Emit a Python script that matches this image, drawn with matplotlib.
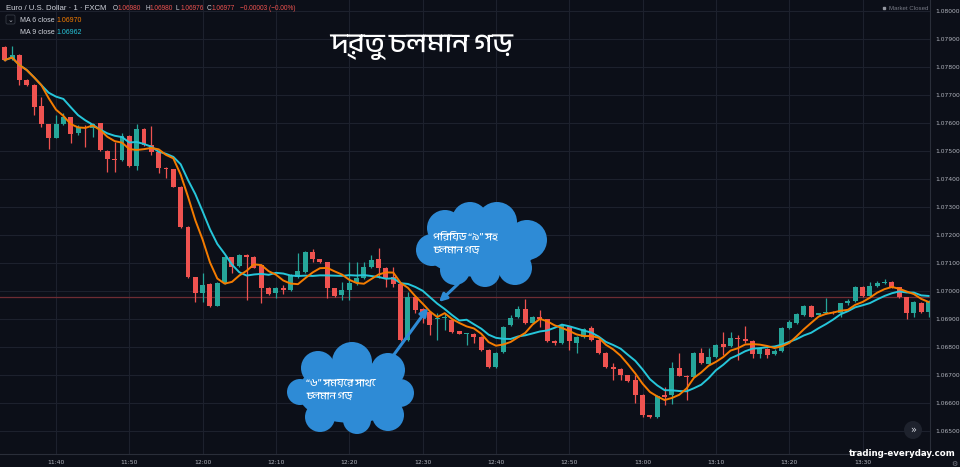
import pandas as pd
import matplotlib.pyplot as plt
from matplotlib import font_manager
from matplotlib.patches import Circle, Ellipse, FancyBboxPatch

# one-minute EUR/USD candles, 11:33 .. 13:39
opens = [1.07871, 1.07826, 1.07841, 1.07752, 1.07734, 1.07659, 1.07594, 1.07545, 1.07595, 1.07619,
         1.07561, 1.07585, 1.07580, 1.07597, 1.07499, 1.07471, 1.07466, 1.07552, 1.07445, 1.07576,
         1.07520, 1.07496, 1.07439, 1.07433, 1.07371, 1.07228, 1.07047, 1.06990, 1.07024, 1.06945,
         1.07026, 1.07119, 1.07089, 1.07127, 1.07121, 1.07091, 1.07010, 1.06990, 1.07010, 1.07002,
         1.07049, 1.07067, 1.07139, 1.07111, 1.07101, 1.07008, 1.06984, 1.07002, 1.07026, 1.07043,
         1.07083, 1.07111, 1.07079, 1.07049, 1.07022, 1.06823, 1.06976, 1.06933, 1.06924, 1.06897,
         1.06901, 1.06895, 1.06855, 1.06845, 1.06845, 1.06835, 1.06788, 1.06728, 1.06781, 1.06877,
         1.06904, 1.06933, 1.06883, 1.06904, 1.06897, 1.06820, 1.06811, 1.06871, 1.06811, 1.06833,
         1.06865, 1.06823, 1.06778, 1.06726, 1.06719, 1.06698, 1.06680, 1.06627, 1.06555, 1.06549,
         1.06627, 1.06627, 1.06722, 1.06696, 1.06692, 1.06776, 1.06738, 1.06762, 1.06808, 1.06802,
         1.06829, 1.06826, 1.06821, 1.06773, 1.06790, 1.06773, 1.06785, 1.06865, 1.06885, 1.06913,
         1.06945, 1.06911, 1.06918, 1.06924, 1.06918, 1.06954, 1.06964, 1.07014, 1.06980, 1.07016,
         1.07026, 1.07032, 1.07011, 1.06976, 1.06921, 1.06957, 1.06924]
highs = [1.07875, 1.07873, 1.07845, 1.07755, 1.07736, 1.07692, 1.07596, 1.07627, 1.07633, 1.07621,
         1.07590, 1.07591, 1.07600, 1.07600, 1.07502, 1.07531, 1.07561, 1.07555, 1.07594, 1.07580,
         1.07588, 1.07498, 1.07442, 1.07435, 1.07373, 1.07230, 1.07049, 1.07061, 1.07026, 1.07030,
         1.07125, 1.07121, 1.07130, 1.07129, 1.07124, 1.07094, 1.07013, 1.07012, 1.07020, 1.07058,
         1.07133, 1.07142, 1.07148, 1.07113, 1.07103, 1.07010, 1.07032, 1.07103, 1.07103, 1.07103,
         1.07127, 1.07151, 1.07085, 1.07085, 1.07025, 1.06996, 1.06980, 1.06936, 1.06926, 1.06918,
         1.06918, 1.06897, 1.06857, 1.06850, 1.06847, 1.06837, 1.06790, 1.06780, 1.06874, 1.06913,
         1.06945, 1.06969, 1.06910, 1.06930, 1.06900, 1.06822, 1.06880, 1.06874, 1.06836, 1.06865,
         1.06873, 1.06826, 1.06780, 1.06740, 1.06722, 1.06700, 1.06698, 1.06630, 1.06557, 1.06626,
         1.06657, 1.06746, 1.06778, 1.06698, 1.06781, 1.06793, 1.06793, 1.06808, 1.06853, 1.06853,
         1.06841, 1.06873, 1.06823, 1.06796, 1.06793, 1.06790, 1.06868, 1.06895, 1.06918, 1.06950,
         1.06948, 1.06920, 1.06972, 1.06926, 1.06957, 1.06968, 1.07016, 1.07016, 1.07029, 1.07035,
         1.07040, 1.07034, 1.07013, 1.06978, 1.06963, 1.06960, 1.06966]
lows = [1.07818, 1.07823, 1.07734, 1.07730, 1.07627, 1.07585, 1.07504, 1.07543, 1.07592, 1.07526,
        1.07555, 1.07514, 1.07547, 1.07498, 1.07424, 1.07424, 1.07462, 1.07440, 1.07431, 1.07515,
        1.07484, 1.07421, 1.07401, 1.07368, 1.07225, 1.07043, 1.06960, 1.06960, 1.06940, 1.06943,
        1.07024, 1.07061, 1.07085, 1.06966, 1.07079, 1.06954, 1.06984, 1.06972, 1.06986, 1.06999,
        1.07045, 1.07064, 1.07103, 1.07098, 1.06974, 1.06978, 1.06966, 1.06966, 1.07020, 1.07040,
        1.07080, 1.07043, 1.07014, 1.07014, 1.06820, 1.06818, 1.06918, 1.06883, 1.06841, 1.06823,
        1.06859, 1.06850, 1.06843, 1.06805, 1.06811, 1.06785, 1.06725, 1.06725, 1.06778, 1.06874,
        1.06901, 1.06880, 1.06880, 1.06871, 1.06817, 1.06805, 1.06808, 1.06788, 1.06776, 1.06830,
        1.06818, 1.06773, 1.06722, 1.06680, 1.06680, 1.06675, 1.06597, 1.06549, 1.06546, 1.06546,
        1.06591, 1.06595, 1.06693, 1.06609, 1.06690, 1.06737, 1.06735, 1.06760, 1.06770, 1.06800,
        1.06752, 1.06811, 1.06760, 1.06760, 1.06760, 1.06768, 1.06782, 1.06862, 1.06882, 1.06910,
        1.06905, 1.06908, 1.06915, 1.06915, 1.06905, 1.06950, 1.06960, 1.06977, 1.06977, 1.07013,
        1.07024, 1.07008, 1.06973, 1.06900, 1.06907, 1.06920, 1.06905]
closes = [1.07823, 1.07841, 1.07752, 1.07734, 1.07657, 1.07594, 1.07543, 1.07595, 1.07619, 1.07559,
          1.07585, 1.07583, 1.07595, 1.07502, 1.07470, 1.07466, 1.07552, 1.07445, 1.07576, 1.07520,
          1.07496, 1.07436, 1.07433, 1.07371, 1.07228, 1.07047, 1.06990, 1.07020, 1.06945, 1.07026,
          1.07119, 1.07085, 1.07127, 1.07121, 1.07082, 1.07010, 1.06989, 1.07010, 1.07002, 1.07055,
          1.07070, 1.07139, 1.07111, 1.07101, 1.07008, 1.06981, 1.07002, 1.07026, 1.07043, 1.07085,
          1.07109, 1.07079, 1.07046, 1.07022, 1.06823, 1.06978, 1.06930, 1.06921, 1.06877, 1.06902,
          1.06907, 1.06853, 1.06845, 1.06847, 1.06833, 1.06788, 1.06728, 1.06776, 1.06871, 1.06901,
          1.06933, 1.06883, 1.06907, 1.06897, 1.06820, 1.06814, 1.06877, 1.06818, 1.06833, 1.06861,
          1.06823, 1.06776, 1.06726, 1.06719, 1.06698, 1.06678, 1.06627, 1.06555, 1.06549, 1.06623,
          1.06621, 1.06722, 1.06696, 1.06690, 1.06776, 1.06740, 1.06764, 1.06805, 1.06799, 1.06829,
          1.06826, 1.06820, 1.06773, 1.06793, 1.06770, 1.06785, 1.06865, 1.06889, 1.06916, 1.06945,
          1.06907, 1.06918, 1.06924, 1.06918, 1.06954, 1.06964, 1.07014, 1.06980, 1.07016, 1.07026,
          1.07029, 1.07011, 1.06976, 1.06921, 1.06960, 1.06924, 1.06962]

tick_idx = [7, 17, 27, 37, 47, 57, 67, 77, 87, 97, 107, 117]
tick_labels = ['11:40', '11:50', '12:00', '12:10', '12:20', '12:30',
               '12:40', '12:50', '13:00', '13:10', '13:20', '13:30']
price_ticks = [1.065, 1.066, 1.067, 1.068, 1.069, 1.070, 1.071, 1.072,
               1.073, 1.074, 1.075, 1.076, 1.077, 1.078, 1.079, 1.080]
last_price = 1.06977

title = 'দ্রুত চলমান গড়'
note_ma9 = ['পিরিয়ড “৯” সহ', 'চলমান গড়']
note_ma6 = ['“৬” সময়ের সাথে', 'চলমান গড়']

BG = '#0c0f18'
GRID = '#1d212d'
UP = '#26a69a'
DOWN = '#ef5350'
ORANGE = '#f57c00'
CYAN = '#26c6da'
CLOUD = '#2e8bd6'
TXT = '#b2b5be'

# a Bengali face if one happens to exist, otherwise DejaVu
beng = sorted({f.name for f in font_manager.fontManager.ttflist
               if 'Bengali' in f.name or 'Bangla' in f.name or 'Lohit' in f.name})
bn_family = [beng[0], 'DejaVu Sans'] if beng else ['DejaVu Sans']

df = pd.DataFrame({'open': opens, 'high': highs, 'low': lows, 'close': closes})
df['ma6'] = df['close'].rolling(6, min_periods=1).mean()
df['ma9'] = df['close'].rolling(9, min_periods=1).mean()
idx = df.index.values

W, H = 960, 467
fig = plt.figure(figsize=(W / 100, H / 100), dpi=100, facecolor=BG)
ax = fig.add_axes([0, 13 / H, 930 / W, 454 / H], facecolor=BG)

up = df['close'] >= df['open']
colors = [UP if u else DOWN for u in up]
ax.vlines(idx, df['low'], df['high'], colors=colors, lw=0.9, zorder=2)
body_lo = df[['open', 'close']].min(axis=1)
body_h = (df['close'] - df['open']).abs().clip(lower=0.000025)
ax.bar(idx, body_h, bottom=body_lo, width=0.68, color=colors, lw=0, zorder=3)

ax.plot(idx, df['ma9'], color=CYAN, lw=1.4, zorder=4)
ax.plot(idx, df['ma6'], color=ORANGE, lw=1.4, zorder=5)
ax.axhline(last_price, color='#6e2c33', lw=0.9, zorder=1)

ax.set_xlim(-0.64, 126.2)
ax.set_ylim(1.064161, 1.080375)
ax.set_xticks(tick_idx)
ax.set_xticklabels(tick_labels)
ax.set_yticks(price_ticks)
ax.set_yticklabels([f'{p:.5f}' for p in price_ticks])
ax.yaxis.tick_right()
ax.tick_params(axis='both', length=0, colors=TXT, labelsize=4.3)
ax.tick_params(axis='x', pad=4)
ax.tick_params(axis='y', pad=4)
ax.grid(True, color=GRID, lw=0.8)
ax.set_axisbelow(True)
for side in ['top', 'left']:
    ax.spines[side].set_visible(False)
ax.spines['right'].set_color('#2a2e39')
ax.spines['bottom'].set_color('#2a2e39')

# overlay in pixel coordinates for header, title and call-outs
ov = fig.add_axes([0, 0, 1, 1], facecolor='none')
ov.set_xlim(0, W)
ov.set_ylim(H, 0)
ov.axis('off')

hdr = dict(family='Liberation Sans', va='center')
ov.text(6, 8, 'Euro / U.S. Dollar · 1 · FXCM', color='#d1d4dc', fontsize=5.6, **hdr)
ohlc = [('O', 113, '1.06980'), ('H', 145, '1.06980'), ('L', 176, '1.06976'), ('C', 207, '1.06977')]
for lab, x0, val in ohlc:
    ov.text(x0, 8, lab, color='#d1d4dc', fontsize=4.7, **hdr)
    ov.text(x0 + 4.6, 8, val, color=DOWN, fontsize=4.7, **hdr)
ov.text(240, 8, '−0.00003 (−0.00%)', color=DOWN, fontsize=4.7, **hdr)

ov.add_patch(FancyBboxPatch((6, 15), 9, 9, boxstyle='round,pad=0,rounding_size=1.5',
                            fc='none', ec='#363a45', lw=0.6))
ov.text(10.5, 19.5, '⌄', color=TXT, fontsize=5, ha='center', va='center')
ov.text(20, 20, 'MA 6 close', color='#d1d4dc', fontsize=5.0, **hdr)
ov.text(56, 20, '1.06970', color=ORANGE, fontsize=5.0, **hdr)
ov.text(20, 33, 'MA 9 close', color='#d1d4dc', fontsize=5.0, **hdr)
ov.text(56, 33, '1.06962', color=CYAN, fontsize=5.0, **hdr)

ov.plot([884], [8], marker='s', ms=1.6, color='#9598a1')
ov.text(889, 8, 'Market Closed', color='#787b86', fontsize=4.4, **hdr)

ov.text(421, 47, title, color='white', fontsize=20, ha='center', va='center', family=bn_family)

clouds = {
    'ma9': [(432, 250, 16), (445, 228, 18), (470, 220, 18), (497, 222, 20), (527, 240, 20),
            (515, 268, 17), (485, 272, 15), (455, 270, 15)],
    'ma6': [(318, 368, 17), (352, 362, 20), (388, 370, 17), (400, 393, 14), (388, 415, 16),
            (357, 420, 14), (320, 417, 15), (300, 392, 13)],
}
cores = {'ma9': (480, 248, 112, 58), 'ma6': (352, 392, 108, 62)}
for key in clouds:
    for cx, cy, r in clouds[key]:
        ov.add_patch(Circle((cx, cy), r, fc=CLOUD, ec='none', zorder=6))
    cx, cy, w, h = cores[key]
    ov.add_patch(Ellipse((cx, cy), w, h, fc=CLOUD, ec='none', zorder=6))

ov.text(433, 237, note_ma9[0], color='white', fontsize=7.5, va='center', family=bn_family, zorder=7)
ov.text(433, 250, note_ma9[1], color='white', fontsize=7.5, va='center', family=bn_family, zorder=7)
ov.text(306, 383, note_ma6[0], color='white', fontsize=7.5, va='center', family=bn_family, zorder=7)
ov.text(306, 396, note_ma6[1], color='white', fontsize=7.5, va='center', family=bn_family, zorder=7)

arrow = dict(arrowstyle='-|>', color=CLOUD, lw=2.2, mutation_scale=11, shrinkA=0, shrinkB=0)
ov.annotate('', xy=(439, 302), xytext=(458, 284), arrowprops=arrow, zorder=6)
ov.annotate('', xy=(428, 308), xytext=(390, 360), arrowprops=arrow, zorder=6)

ov.add_patch(Circle((913, 430), 9, fc='#1e222d', ec='none'))
ov.text(913, 430, '»', color='#d1d4dc', fontsize=7, ha='center', va='center')
ov.text(902, 454, 'trading-everyday.com', color='white', fontsize=6.2, fontweight='bold',
        ha='center', va='center')
ov.text(954, 464, '⚙', color='#787b86', fontsize=5.0, ha='center', va='center')

plt.savefig('out.png', dpi=100, facecolor=BG)
